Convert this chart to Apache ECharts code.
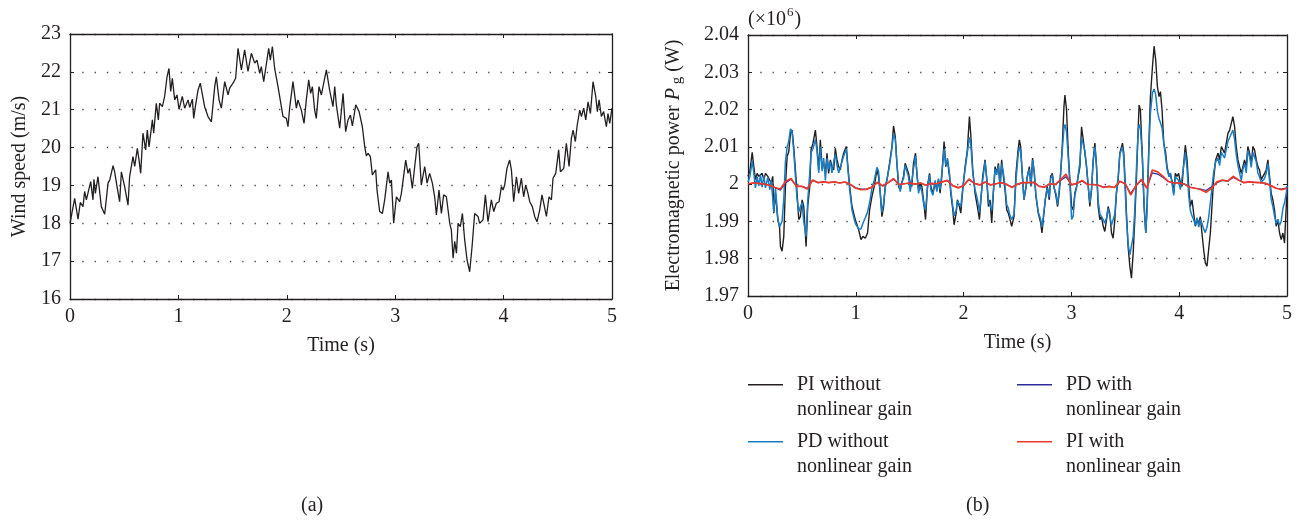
<!DOCTYPE html>
<html>
<head>
<meta charset="utf-8">
<script src="https://cdn.jsdelivr.net/npm/echarts@6/dist/echarts.min.js"></script>
<style>html,body{margin:0;padding:0;background:#fff;}#c{width:1301px;height:520px;}</style>
</head>
<body>
<div id="c"></div>
<script>
// ---------- (a) wind speed ----------
const windTime = [0.00,0.043,0.074,0.095,0.120,0.135,0.151,0.191,0.212,0.221,0.234,0.258,0.289,0.320,0.351,0.366,0.397,0.412,0.434,0.458,0.474,0.504,0.535,0.550,0.581,0.597,0.621,0.637,0.652,0.673,0.698,0.713,0.729,0.760,0.772,0.796,0.815,0.827,0.852,0.873,0.895,0.913,0.929,0.944,0.966,0.987,1.006,1.036,1.058,1.089,1.104,1.129,1.141,1.159,1.181,1.202,1.242,1.273,1.304,1.335,1.350,1.375,1.396,1.427,1.458,1.473,1.504,1.528,1.550,1.581,1.611,1.642,1.673,1.704,1.725,1.750,1.765,1.787,1.833,1.848,1.867,1.888,1.919,1.934,1.965,1.996,2.011,2.026,2.057,2.088,2.103,2.134,2.159,2.180,2.202,2.220,2.236,2.257,2.272,2.297,2.319,2.334,2.365,2.395,2.426,2.442,2.457,2.488,2.519,2.543,2.565,2.587,2.605,2.636,2.667,2.697,2.719,2.734,2.750,2.771,2.789,2.820,2.832,2.857,2.882,2.903,2.934,2.949,2.965,2.986,3.011,3.041,3.057,3.072,3.097,3.118,3.134,3.158,3.180,3.201,3.217,3.241,3.272,3.294,3.318,3.343,3.364,3.380,3.404,3.426,3.447,3.472,3.503,3.518,3.534,3.549,3.565,3.580,3.601,3.620,3.641,3.663,3.687,3.709,3.733,3.749,3.764,3.779,3.810,3.832,3.856,3.887,3.909,3.933,3.958,3.980,3.995,4.010,4.031,4.056,4.072,4.093,4.118,4.139,4.164,4.185,4.204,4.225,4.241,4.265,4.287,4.308,4.333,4.354,4.370,4.395,4.419,4.441,4.456,4.481,4.508,4.524,4.555,4.579,4.604,4.625,4.641,4.662,4.678,4.702,4.718,4.739,4.758,4.779,4.801,4.825,4.850,4.865,4.881,4.902,4.923,4.948,4.963,4.979,5.000];
const windSpeed = [18.00,18.66,18.11,18.55,18.44,18.84,18.62,19.10,18.62,19.16,18.79,19.23,18.44,18.24,19.06,19.14,19.52,19.36,18.97,18.57,19.36,18.97,18.48,19.23,19.76,19.50,19.98,19.67,19.32,20.38,19.94,20.46,20.02,20.73,20.38,21.17,20.73,21.17,21.08,21.35,21.87,22.09,21.48,21.83,21.26,21.39,21.01,21.35,21.04,21.26,21.06,21.28,20.77,21.13,21.52,21.70,21.08,20.82,20.68,21.61,21.87,21.26,21.04,21.74,21.39,21.57,21.70,21.83,22.62,22.05,22.58,22.01,22.49,22.23,22.31,21.96,22.14,21.74,22.62,22.31,22.67,22.09,21.61,21.65,20.82,20.77,20.55,21.04,21.74,21.04,21.26,20.99,20.64,21.26,21.79,21.43,21.61,20.99,20.77,21.61,21.39,21.61,22.05,21.52,21.08,21.61,21.13,20.51,21.43,20.42,20.73,20.86,20.57,21.13,20.95,20.55,20.02,19.78,19.85,19.76,19.28,19.41,18.88,18.31,18.26,18.62,19.36,19.06,19.14,18.00,18.70,18.57,18.79,18.75,19.67,19.32,19.45,18.92,19.50,20.02,20.11,19.01,19.50,19.06,19.32,19.06,18.70,18.22,18.88,18.26,18.75,18.70,18.00,17.82,17.08,17.52,17.21,18.00,17.91,18.26,17.56,17.03,16.72,17.38,18.26,18.31,18.18,18.00,18.09,18.75,18.04,18.62,18.31,18.53,18.57,18.97,18.88,19.01,19.45,19.67,19.41,18.57,19.23,18.79,19.19,18.70,19.01,18.79,18.57,18.44,18.18,18.04,18.35,18.75,18.53,18.18,18.70,18.62,19.19,19.32,19.94,19.36,19.45,20.11,19.50,20.24,20.46,20.16,20.57,20.99,20.82,21.04,20.73,21.21,20.90,21.74,21.35,20.95,21.26,20.82,20.95,20.55,20.90,20.64,21.04];

// ---------- (b) electromagnetic power (x10^6 W) ----------
const powerTime = [0.000,0.017,0.039,0.054,0.069,0.085,0.100,0.116,0.131,0.147,0.162,0.184,0.202,0.215,0.230,0.239,0.255,0.276,0.292,0.301,0.316,0.332,0.347,0.363,0.378,0.394,0.409,0.424,0.440,0.455,0.471,0.486,0.502,0.517,0.539,0.554,0.573,0.585,0.603,0.625,0.640,0.656,0.671,0.687,0.702,0.718,0.733,0.748,0.764,0.779,0.795,0.810,0.826,0.841,0.856,0.872,0.887,0.912,0.924,0.943,0.965,0.995,1.026,1.048,1.066,1.088,1.109,1.128,1.150,1.171,1.196,1.211,1.227,1.242,1.258,1.273,1.289,1.313,1.335,1.350,1.366,1.381,1.397,1.412,1.427,1.443,1.458,1.474,1.489,1.505,1.520,1.535,1.554,1.566,1.582,1.597,1.613,1.628,1.647,1.665,1.684,1.696,1.715,1.736,1.752,1.767,1.782,1.798,1.819,1.835,1.850,1.869,1.881,1.900,1.912,1.931,1.943,1.961,1.974,1.992,2.014,2.035,2.054,2.066,2.085,2.106,2.128,2.147,2.159,2.177,2.199,2.215,2.230,2.245,2.261,2.276,2.292,2.307,2.323,2.338,2.353,2.369,2.384,2.400,2.415,2.431,2.446,2.468,2.486,2.505,2.517,2.529,2.548,2.560,2.579,2.591,2.610,2.625,2.640,2.656,2.671,2.693,2.715,2.727,2.739,2.758,2.776,2.795,2.807,2.823,2.838,2.857,2.872,2.887,2.900,2.915,2.931,2.940,2.955,2.971,2.986,3.002,3.017,3.032,3.048,3.063,3.079,3.094,3.110,3.125,3.140,3.156,3.171,3.187,3.202,3.218,3.233,3.248,3.264,3.279,3.295,3.310,3.326,3.341,3.356,3.372,3.387,3.403,3.418,3.434,3.449,3.474,3.486,3.498,3.511,3.526,3.542,3.557,3.573,3.588,3.603,3.619,3.628,3.640,3.659,3.674,3.690,3.702,3.721,3.733,3.752,3.767,3.782,3.798,3.813,3.826,3.841,3.857,3.875,3.887,3.906,3.918,3.937,3.949,3.964,3.980,3.995,4.011,4.026,4.042,4.057,4.073,4.088,4.103,4.119,4.134,4.150,4.165,4.181,4.196,4.211,4.227,4.242,4.258,4.273,4.289,4.304,4.319,4.338,4.360,4.375,4.391,4.406,4.421,4.437,4.452,4.468,4.483,4.498,4.514,4.529,4.545,4.560,4.576,4.591,4.606,4.622,4.637,4.653,4.668,4.684,4.699,4.715,4.730,4.745,4.761,4.776,4.792,4.807,4.823,4.838,4.853,4.869,4.884,4.900,4.915,4.931,4.946,4.962,4.977,4.993,5.000];
const piWithout = [2.0021,2.0034,2.0085,2.0047,2.0012,2.0029,2.0021,2.0016,2.0029,2.0012,2.0029,2.0021,2.0025,2.0003,2.0021,1.9922,1.9976,1.9905,1.9887,1.9833,1.9820,1.9860,1.9994,2.0074,2.0087,2.0136,2.0145,2.0101,2.0038,1.9976,1.9905,1.9913,1.9958,1.9940,1.9833,1.9940,1.9994,2.0092,2.0110,2.0145,2.0101,2.0038,2.0119,2.0047,2.0056,2.0029,2.0083,2.0029,2.0065,2.0047,2.0038,2.0096,2.0065,2.0047,2.0038,2.0065,2.0083,2.0101,2.0056,1.9994,1.9940,1.9905,1.9878,1.9851,1.9860,1.9855,1.9869,1.9931,1.9967,1.9994,2.0038,2.0021,1.9976,1.9913,1.9940,1.9994,2.0012,2.0056,2.0101,2.0156,2.0128,2.0056,1.9994,1.9985,2.0003,2.0021,2.0056,2.0056,2.0029,2.0003,1.9994,2.0056,2.0083,2.0029,1.9985,2.0003,1.9994,1.9958,1.9905,1.9994,2.0029,1.9994,1.9976,2.0003,1.9985,2.0012,1.9976,2.0021,2.0114,2.0047,2.0065,2.0021,1.9976,1.9931,1.9891,1.9922,1.9958,1.9940,1.9922,1.9985,2.0047,2.0092,2.0181,2.0136,2.0038,1.9976,1.9940,1.9905,1.9900,2.0021,2.0065,2.0012,1.9940,1.9958,1.9896,1.9976,2.0047,2.0029,2.0056,1.9994,2.0065,2.0021,1.9985,1.9931,1.9922,1.9905,1.9887,1.9913,2.0029,2.0090,2.0119,2.0101,2.0012,1.9958,1.9994,2.0021,2.0047,1.9994,2.0070,2.0029,1.9967,1.9922,1.9896,1.9869,1.9905,1.9958,1.9994,1.9958,2.0021,2.0029,1.9994,1.9967,1.9940,1.9976,2.0029,2.0101,2.0208,2.0239,2.0199,2.0083,2.0012,1.9940,1.9931,1.9976,1.9994,2.0021,2.0047,2.0154,2.0119,2.0083,2.0047,1.9994,1.9940,1.9985,2.0065,2.0110,2.0047,1.9940,1.9905,1.9913,1.9887,1.9873,1.9905,1.9940,1.9922,1.9869,1.9855,1.9905,1.9976,2.0012,2.0083,2.0110,2.0083,2.0012,1.9922,1.9833,1.9780,1.9748,1.9815,1.9905,2.0012,2.0145,2.0212,2.0199,2.0065,1.9940,1.9869,1.9940,2.0128,2.0235,2.0315,2.0370,2.0333,2.0261,2.0235,2.0248,2.0199,2.0110,2.0083,2.0047,2.0021,2.0029,2.0003,1.9976,2.0029,2.0021,2.0029,2.0003,1.9994,2.0056,2.0105,2.0065,1.9994,1.9940,1.9958,1.9922,1.9887,1.9905,1.9896,1.9913,1.9869,1.9824,1.9789,1.9780,1.9824,1.9869,1.9940,2.0012,2.0065,2.0083,2.0065,2.0101,2.0092,2.0083,2.0110,2.0136,2.0145,2.0163,2.0181,2.0154,2.0101,2.0065,2.0047,2.0029,2.0047,2.0065,2.0047,2.0101,2.0083,2.0056,2.0101,2.0092,2.0065,2.0047,2.0038,2.0012,2.0012,2.0029,2.0038,2.0065,2.0021,1.9976,1.9958,1.9931,1.9887,1.9905,1.9869,1.9851,1.9869,1.9842,1.9940,1.9980];
const pdWithout = [2.0005,2.0020,2.0062,2.0030,1.9990,2.0020,1.9995,2.0025,1.9992,2.0022,1.9990,2.0018,1.9985,2.0010,1.9960,1.9925,1.9990,1.9910,1.9885,1.9890,1.9900,1.9960,2.0060,2.0100,2.0115,2.0148,2.0140,2.0090,2.0020,1.9960,1.9925,1.9940,1.9950,1.9900,1.9860,1.9955,2.0030,2.0085,2.0095,2.0120,2.0090,2.0030,2.0100,2.0035,2.0070,2.0010,2.0070,2.0040,2.0060,2.0030,2.0060,2.0080,2.0050,2.0030,2.0045,2.0060,2.0075,2.0095,2.0050,1.9985,1.9930,1.9895,1.9880,1.9880,1.9895,1.9910,1.9925,1.9950,1.9990,2.0010,2.0045,2.0035,1.9975,1.9925,1.9950,1.9990,2.0010,2.0050,2.0095,2.0135,2.0120,2.0060,2.0000,1.9980,2.0005,2.0015,2.0050,2.0045,2.0020,1.9980,1.9985,2.0040,2.0075,2.0035,1.9975,1.9995,1.9980,1.9950,1.9930,1.9990,2.0025,1.9985,1.9970,2.0010,1.9980,2.0015,1.9985,2.0030,2.0095,2.0050,2.0070,2.0030,1.9985,1.9940,1.9915,1.9930,1.9955,1.9950,1.9940,1.9990,2.0040,2.0085,2.0125,2.0110,2.0030,1.9985,1.9960,1.9925,1.9930,2.0010,2.0060,2.0015,1.9955,1.9950,1.9930,1.9980,2.0040,2.0025,2.0050,1.9990,2.0055,2.0030,1.9995,1.9945,1.9935,1.9915,1.9905,1.9920,2.0010,2.0075,2.0100,2.0090,2.0010,1.9960,1.9990,2.0020,2.0040,1.9995,2.0065,2.0030,1.9970,1.9925,1.9905,1.9885,1.9910,1.9960,1.9990,1.9965,2.0015,2.0025,1.9990,1.9975,1.9945,1.9985,2.0030,2.0090,2.0150,2.0160,2.0140,2.0070,2.0000,1.9905,1.9915,1.9970,1.9990,2.0025,2.0060,2.0125,2.0130,2.0090,2.0050,1.9995,1.9950,1.9990,2.0060,2.0100,2.0050,1.9955,1.9920,1.9915,1.9905,1.9895,1.9910,1.9935,1.9915,1.9890,1.9885,1.9920,1.9980,2.0020,2.0080,2.0100,2.0070,1.9990,1.9905,1.9840,1.9810,1.9815,1.9860,1.9930,2.0040,2.0140,2.0160,2.0150,2.0070,1.9950,1.9870,1.9935,2.0110,2.0190,2.0245,2.0255,2.0240,2.0195,2.0175,2.0165,2.0150,2.0110,2.0070,2.0040,2.0020,2.0030,1.9995,1.9970,2.0020,2.0025,2.0010,1.9985,1.9990,2.0050,2.0085,2.0040,1.9970,1.9930,1.9915,1.9905,1.9890,1.9910,1.9885,1.9905,1.9895,1.9880,1.9870,1.9885,1.9910,1.9950,1.9990,2.0030,2.0060,2.0070,2.0050,2.0085,2.0080,2.0070,2.0095,2.0115,2.0125,2.0135,2.0145,2.0120,2.0080,2.0050,2.0030,2.0010,2.0040,2.0055,2.0030,2.0090,2.0075,2.0045,2.0085,2.0080,2.0060,2.0030,2.0020,2.0005,2.0000,2.0015,2.0030,2.0055,2.0010,1.9960,1.9940,1.9915,1.9895,1.9905,1.9890,1.9900,1.9935,1.9950,1.9975,1.9995];
const nlTime = [0,0.05,0.10,0.15,0.20,0.25,0.30,0.35,0.40,0.45,0.50,0.55,0.60,0.65,0.70,0.75,0.80,0.85,0.90,0.95,1.00,1.05,1.10,1.15,1.20,1.25,1.30,1.35,1.40,1.45,1.50,1.55,1.60,1.65,1.70,1.75,1.80,1.85,1.90,1.95,2.00,2.05,2.10,2.15,2.20,2.25,2.30,2.35,2.40,2.45,2.50,2.55,2.60,2.65,2.70,2.75,2.80,2.85,2.90,2.95,3.00,3.05,3.10,3.15,3.20,3.25,3.30,3.35,3.40,3.45,3.50,3.55,3.60,3.65,3.70,3.75,3.80,3.85,3.90,3.95,4.00,4.05,4.10,4.15,4.20,4.25,4.30,4.35,4.40,4.45,4.50,4.55,4.60,4.65,4.70,4.75,4.80,4.85,4.90,4.95,5.00];
const piWith = [2.0001,2.0003,2.0002,2.0000,1.9997,1.9991,1.9987,2.0008,2.0015,1.9994,1.9994,1.9987,2.0011,2.0004,2.0006,2.0004,2.0006,2.0003,2.0006,1.9999,1.9989,1.9985,1.9986,1.9992,2.0005,1.9995,2.0004,2.0015,1.9999,2.0001,2.0003,2.0000,2.0003,1.9997,2.0002,2.0001,2.0006,2.0010,1.9996,1.9990,1.9996,2.0014,2.0002,1.9998,2.0006,1.9998,2.0001,2.0004,1.9999,1.9991,2.0000,2.0004,2.0004,2.0005,1.9994,1.9992,2.0001,1.9999,2.0012,2.0027,1.9998,2.0002,2.0010,1.9999,1.9999,1.9997,1.9991,1.9994,1.9991,2.0008,2.0001,1.9971,1.9996,2.0013,1.9989,2.0038,2.0033,2.0021,2.0007,2.0003,2.0003,2.0000,1.9991,1.9989,1.9985,1.9978,1.9989,2.0006,2.0011,2.0008,2.0021,2.0011,2.0004,2.0006,2.0005,2.0004,2.0002,1.9996,1.9989,1.9985,1.9989];
const pdWith = [2.0001,2.0003,2.0002,2.0000,1.9997,1.9991,1.9984,2.0004,2.0013,1.9994,1.9994,1.9989,2.0010,2.0004,2.0006,2.0004,2.0006,2.0003,2.0005,1.9999,1.9990,1.9987,1.9987,1.9992,2.0004,1.9995,2.0004,2.0013,1.9999,2.0001,2.0003,2.0000,2.0003,1.9997,2.0002,2.0001,2.0006,2.0009,1.9996,1.9991,1.9996,2.0012,2.0002,1.9998,2.0005,1.9998,2.0001,2.0004,1.9999,1.9992,2.0000,2.0004,2.0004,2.0005,1.9995,1.9992,2.0001,1.9999,2.0010,2.0020,1.9998,2.0002,2.0008,1.9999,1.9999,1.9997,1.9992,1.9994,1.9991,2.0007,2.0001,1.9975,1.9996,2.0010,1.9990,2.0030,2.0027,2.0018,2.0007,2.0003,2.0003,2.0000,1.9992,1.9989,1.9987,1.9983,1.9993,2.0004,2.0010,2.0008,2.0018,2.0011,2.0004,2.0006,2.0005,2.0004,2.0002,1.9996,1.9989,1.9987,1.9990];

const xTicks = {min: 0, max: 5, interval: 1};
const windTicks = {min: 16, max: 23, interval: 1};
const powerTicks = {min: 1.97, max: 2.04, interval: 0.01};
const legendCol1 = ['PI without\nnonlinear gain', 'PD without\nnonlinear gain'];
const legendCol2 = ['PD with\nnonlinear gain', 'PI with\nnonlinear gain'];

// ---------- chart ----------
const FONT = 'Liberation Serif';
const INK = '#231f20';
const zip = (a, b) => a.map((t, i) => [t, b[i]]);

function xAx(grid, pos, withLabel) {
  return {
    gridIndex: grid, type: 'value', position: pos, min: xTicks.min, max: xTicks.max, interval: xTicks.interval,
    axisLine: {show: true, onZero: false, lineStyle: {color: INK, width: 1.3}},
    axisTick: {show: true, inside: true, length: 4, lineStyle: {color: INK, width: 1}},
    axisLabel: {show: withLabel, fontFamily: FONT, fontSize: 20, color: INK, margin: 8},
    splitLine: {show: false},
    name: withLabel ? 'Time (s)' : '', nameLocation: 'middle', nameGap: 37,
    nameTextStyle: {fontFamily: FONT, fontSize: 20, color: INK}
  };
}
function yAx(grid, pos, ticks, withLabel, extra) {
  return Object.assign({
    gridIndex: grid, type: 'value', position: pos, min: ticks.min, max: ticks.max, interval: ticks.interval,
    axisLine: {show: true, onZero: false, lineStyle: {color: INK, width: 1.3}},
    axisTick: {show: true, inside: true, length: 4, lineStyle: {color: INK, width: 1}},
    axisLabel: {show: withLabel, fontFamily: FONT, fontSize: 20, color: INK, margin: 9,
      formatter: v => String(+v.toFixed(2))},
    splitLine: {show: withLabel, lineStyle: {color: '#444', width: 1.3, type: [1.3, 11]}}
  }, extra || {});
}

const chart = echarts.init(document.getElementById('c'), null, {renderer: 'canvas'});
// legend icon: a 35px line sitting at the top of a 26px-tall box so it lines up with the first text line
const LEGEND_ICON = 'path://M0,0H35V1.5H0Z M34.99,25.99H35V26H34.99Z';
const legendText = {fontFamily: FONT, fontSize: 20, color: INK, lineHeight: 25, padding: [0, 0, 0, 9]};
const legendBase = {orient: 'vertical', top: 372, padding: 0, itemGap: 7, itemWidth: 35, itemHeight: 26,
  icon: LEGEND_ICON, textStyle: legendText, selectedMode: false};
chart.setOption({
  backgroundColor: '#fff',
  animation: false,
  grid: [
    {left: 70, top: 34, width: 542, height: 265},
    {left: 748, top: 35, width: 539, height: 261}
  ],
  xAxis: [xAx(0, 'bottom', true), xAx(0, 'top', false), xAx(1, 'bottom', true), xAx(1, 'top', false)],
  yAxis: [
    yAx(0, 'left', windTicks, true, {name: 'Wind speed (m/s)', nameLocation: 'middle', nameGap: 40,
      nameTextStyle: {fontFamily: FONT, fontSize: 20, color: INK}}),
    yAx(0, 'right', windTicks, false),
    yAx(1, 'left', powerTicks, true, {name: '{a|Electromagnetic power }{i|P}{s| g}{a| (W)}', nameLocation: 'middle', nameGap: 63,
      nameTextStyle: {fontFamily: FONT, fontSize: 20, color: INK,
        rich: {a: {fontFamily: FONT, fontSize: 20, color: INK},
               i: {fontFamily: FONT, fontSize: 20, color: INK, fontStyle: 'italic'},
               s: {fontFamily: FONT, fontSize: 15, color: INK, padding: [8, 0, 0, 0]}}}}),
    yAx(1, 'right', powerTicks, false)
  ],
  legend: [
    Object.assign({left: 748, data: legendCol1}, legendBase),
    Object.assign({left: 1017, data: legendCol2}, legendBase)
  ],
  graphic: [
    {type: 'text', left: 748, top: 6, style: {text: '{b|(×10}{u|6}{b|)}', fontFamily: FONT, fontSize: 20, fill: INK,
      rich: {b: {fontFamily: FONT, fontSize: 20, fill: INK, lineHeight: 24, verticalAlign: 'bottom'},
             u: {fontFamily: FONT, fontSize: 13, fill: INK, lineHeight: 24, verticalAlign: 'top', padding: [0, 1, 0, 1]}}}},
    {type: 'text', left: 301, top: 496, style: {text: '(a)', fontFamily: FONT, fontSize: 20, fill: INK}},
    {type: 'text', left: 966, top: 496, style: {text: '(b)', fontFamily: FONT, fontSize: 20, fill: INK}}
  ],
  series: [
    {type: 'line', name: 'Wind speed', xAxisIndex: 0, yAxisIndex: 0, data: zip(windTime, windSpeed),
     showSymbol: false, lineStyle: {color: INK, width: 1.3}, itemStyle: {color: INK}},
    {type: 'line', name: legendCol1[0], xAxisIndex: 2, yAxisIndex: 2, data: zip(powerTime, piWithout),
     showSymbol: false, lineStyle: {color: '#231f20', width: 1.4}, itemStyle: {color: '#231f20'}},
    {type: 'line', name: legendCol1[1], xAxisIndex: 2, yAxisIndex: 2, data: zip(powerTime, pdWithout),
     showSymbol: false, lineStyle: {color: '#1a7cc3', width: 1.5}, itemStyle: {color: '#1a7cc3'}},
    {type: 'line', name: legendCol2[0], xAxisIndex: 2, yAxisIndex: 2, data: zip(nlTime, pdWith),
     showSymbol: false, lineStyle: {color: '#2e2f96', width: 1.2}, itemStyle: {color: '#2e2f96'}},
    {type: 'line', name: legendCol2[1], xAxisIndex: 2, yAxisIndex: 2, data: zip(nlTime, piWith),
     showSymbol: false, lineStyle: {color: '#ee3a2a', width: 1.7}, itemStyle: {color: '#ee3a2a'}}
  ]
});
</script>
</body>
</html>
